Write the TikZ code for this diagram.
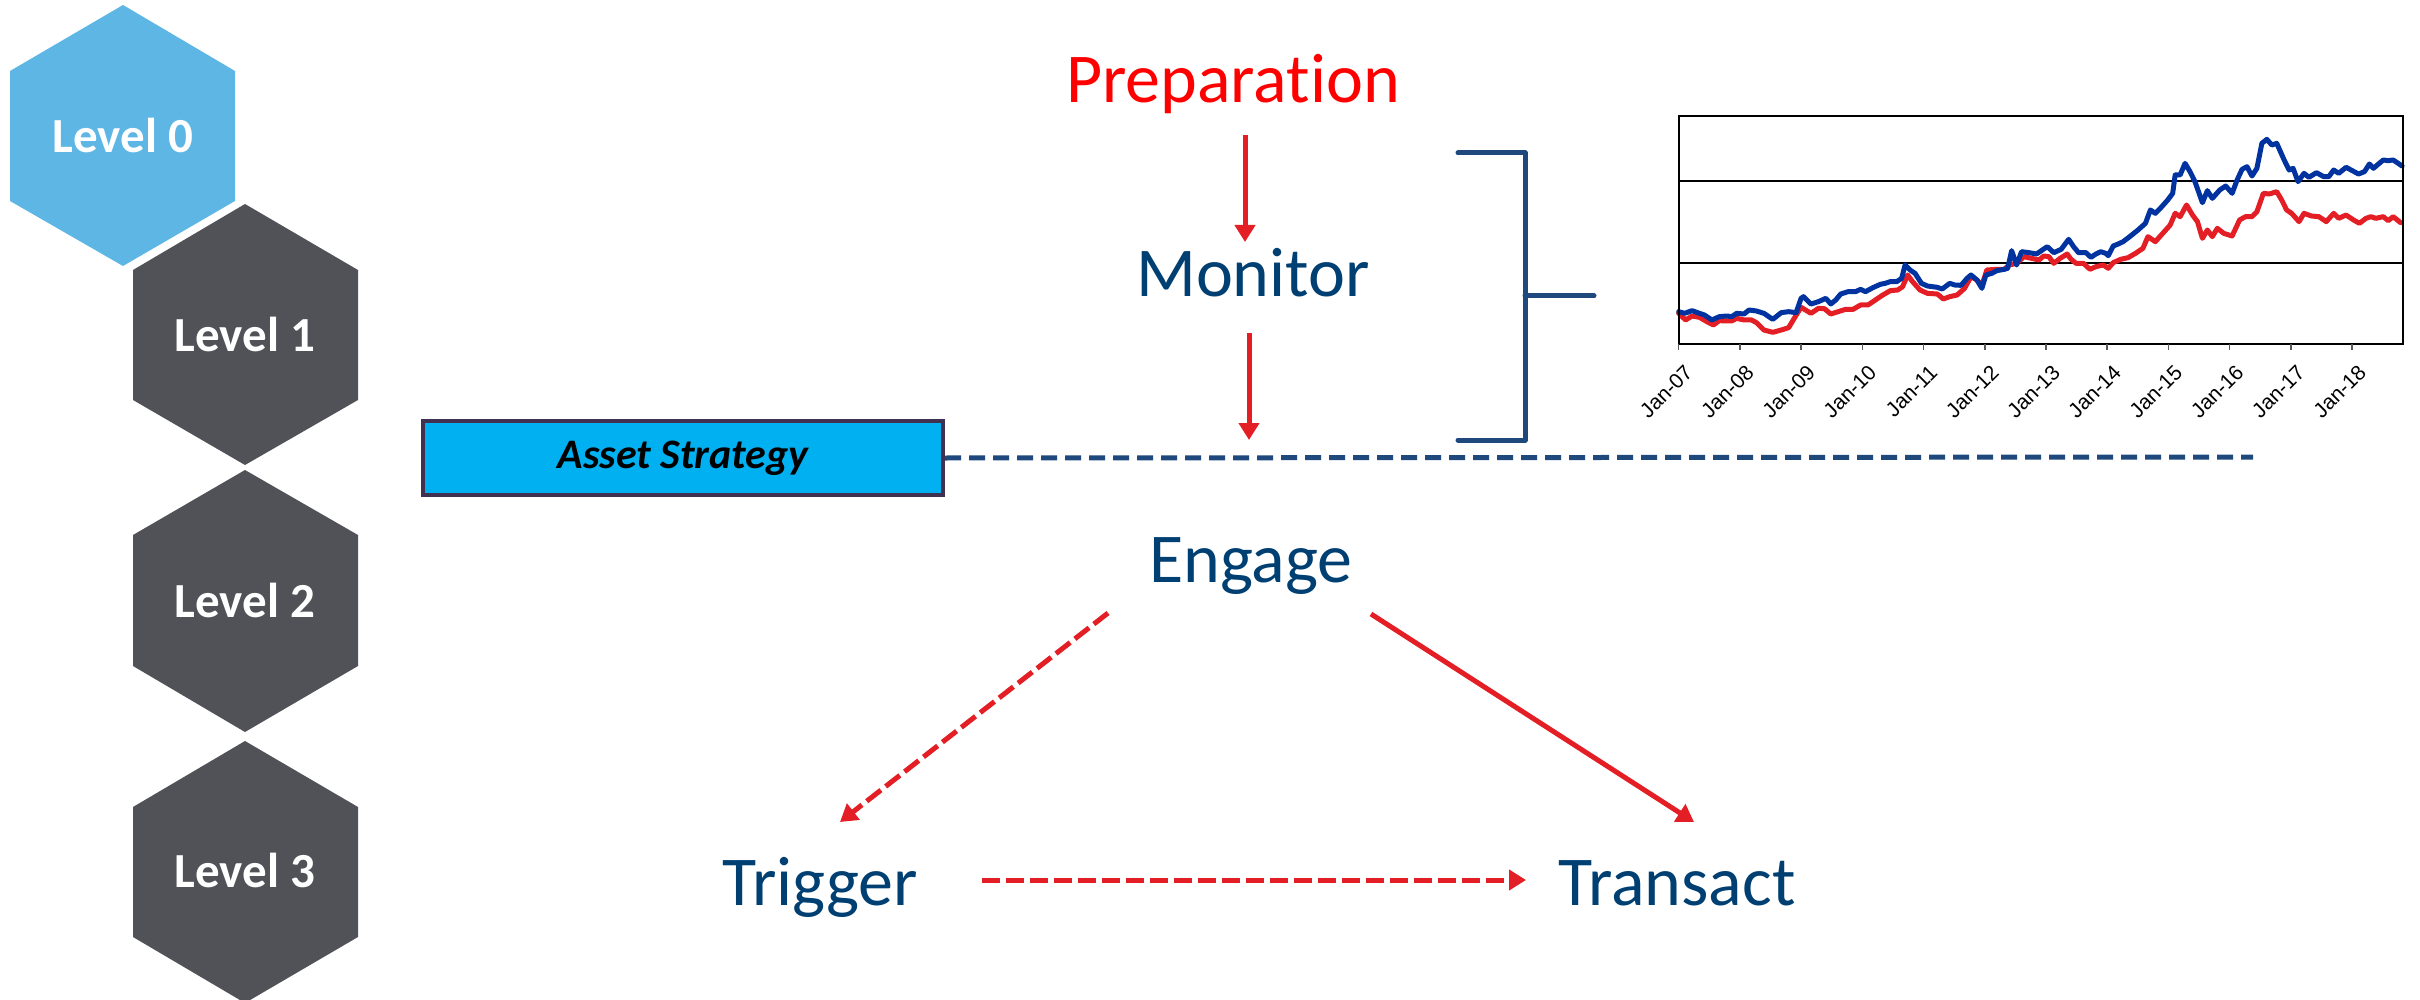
\documentclass[tikz,border=0pt]{standalone}
\usepackage{fontspec}
\setmainfont{Carlito}[Ligatures=NoCommon]
\newfontfamily\axisfont{Liberation Sans}
\usetikzlibrary{arrows.meta}

\definecolor{hexlight}{RGB}{94,182,228}
\definecolor{hexdark}{RGB}{80,82,87}
\definecolor{navytext}{RGB}{0,63,114}
\definecolor{preptext}{RGB}{255,0,0}
\definecolor{flowred}{RGB}{227,30,36}
\definecolor{rulenavy}{RGB}{31,73,125}
\definecolor{stratfill}{RGB}{0,176,240}
\definecolor{stratedge}{RGB}{64,49,81}
\definecolor{seriesblue}{RGB}{0,51,160}
\definecolor{seriesred}{RGB}{227,30,36}

\begin{document}
\begin{tikzpicture}[x=1pt,y=-1pt,
  lvltext/.style={anchor=base,text=white,inner sep=0pt,
    font=\fontsize{49}{58}\selectfont\bfseries},
  stage/.style={anchor=base,text=navytext,inner sep=0pt,
    font=\fontsize{70}{84}\selectfont},
  flow/.style={draw=flowred,line width=5pt,
    -{Triangle[width=20pt,length=17pt]}},
  flowdash/.style={flow,dash pattern=on 18pt off 6pt},
  brace/.style={draw=rulenavy,line width=5pt,line cap=round,line join=round},
  stratbox/.style={draw=stratedge,fill=stratfill,line width=4pt,
    minimum width=520pt,minimum height=74pt,inner sep=0pt,
    font=\fontsize{42}{50}\selectfont\bfseries\itshape},
  gridrule/.style={draw=black,line width=1.6pt},
  frame/.style={draw=black,line width=2pt},
  series/.style={line width=5pt,line join=round,line cap=round},
  yearlabel/.style={rotate=45,anchor=north east,inner sep=0pt,
    font=\axisfont\fontsize{21}{25}\selectfont}]

\useasboundingbox (0,0) rectangle (2420,1000);

% level hexagons
\fill[hexlight] (123,5) -- (235,71) -- (235,201) -- (123,266) -- (10,201) -- (10,71) -- cycle;
\fill[hexdark] (245,204) -- (358,270) -- (358,400) -- (245,465) -- (133,400) -- (133,270) -- cycle;
\fill[hexdark] (245,470) -- (358,535) -- (358,666) -- (245,732) -- (133,666) -- (133,535) -- cycle;
\fill[hexdark] (245,741) -- (358,807) -- (358,937) -- (245,1003) -- (133,937) -- (133,807) -- cycle;
\node[lvltext] (lv0) at (123,153) {Level 0};
\node[lvltext] (lv1) at (245,352) {Level 1};
\node[lvltext] (lv2) at (245,617) {Level 2};
\node[lvltext] (lv3) at (245,887) {Level 3};

% stages
\node[stage,text=preptext] (prep) at (1233,103) {Preparation};
\node[stage] (mon) at (1253,297) {Monitor};
\node[stage] (eng) at (1251,582) {Engage};
\node[stage] (trig) at (820,905) {Trigger};
\node[stage] (trans) at (1677,905) {Transact};

% asset strategy bar and its dashed line
\node[stratbox] (strat) at (683,458) {Asset Strategy};
\coordinate (stratend) at (2253,457);
\coordinate (stratmid) at (1249,457);
\draw[rulenavy,line width=5pt,dash pattern=on 16pt off 8pt] (strat.east) -- (stratend);

% stage arrows
\draw[flow] ([xshift=12pt,yshift=-32pt]prep.base) -- ([xshift=-8pt,yshift=55pt]mon.base);
\draw[flow] ([xshift=-4pt,yshift=-36pt]mon.base) -- ([yshift=17pt]stratmid);
\draw[flowdash] ([xshift=-143pt,yshift=-31pt]eng.base) -- ([xshift=20pt,yshift=83pt]trig.base);
\draw[flow] ([xshift=120pt,yshift=-32pt]eng.base) -- ([xshift=17pt,yshift=83pt]trans.base);
\draw[flowdash] ([xshift=162pt,yshift=25pt]trig.base) -- ([xshift=-151pt,yshift=25pt]trans.base);

% bracket tying the monitor phase to the chart
\coordinate (brtop) at (1458,153);
\coordinate (brbot) at (1458,440);
\coordinate (brtip) at (1594,296);
\draw[brace] (brtop) -- (1525,153) -- (1525,440) -- (brbot);
\draw[brace] (1525,296) -- (brtip);

% price chart
\begin{scope}[shift={(1640pt,-100pt)},x=0.4955pt,y=-0.33333pt]
  \draw[gridrule] (78,243) -- (1540,243);
  \draw[gridrule] (78,489) -- (1540,489);
  \draw[series,seriesred] (78,640) -- (92,660) -- (105,648) -- (120,652) -- (135,665) -- (148,675) -- (160,662) -- (175,663) -- (185,663) -- (195,655) -- (210,660) -- (225,660) -- (235,668) -- (250,690) -- (268,697) -- (285,690) -- (300,683) -- (310,658) -- (325,622) -- (345,640) -- (360,625) -- (372,626) -- (385,642) -- (400,635) -- (415,628) -- (430,628) -- (445,615) -- (460,615) -- (475,600) -- (490,585) -- (505,572) -- (520,570) -- (530,560) -- (540,525) -- (550,545) -- (565,570) -- (580,580) -- (600,582) -- (612,597) -- (625,590) -- (640,585) -- (655,565) -- (668,530) -- (680,540) -- (690,555) -- (700,510) -- (720,508) -- (735,508) -- (745,495) -- (760,490) -- (775,470) -- (790,475) -- (805,480) -- (815,468) -- (825,470) -- (835,490) -- (848,475) -- (862,462) -- (870,478) -- (880,490) -- (895,490) -- (908,508) -- (920,500) -- (935,495) -- (945,505) -- (955,488) -- (970,478) -- (985,473) -- (1000,460) -- (1015,445) -- (1025,410) -- (1040,425) -- (1055,400) -- (1070,375) -- (1080,340) -- (1090,350) -- (1103,315) -- (1115,345) -- (1125,365) -- (1135,415) -- (1145,390) -- (1155,410) -- (1165,385) -- (1178,400) -- (1195,408) -- (1210,360) -- (1222,350) -- (1235,350) -- (1245,335) -- (1258,280) -- (1270,282) -- (1285,275) -- (1295,300) -- (1305,330) -- (1315,340) -- (1330,365) -- (1340,340) -- (1355,348) -- (1370,350) -- (1385,365) -- (1400,340) -- (1410,355) -- (1425,345) -- (1440,360) -- (1452,370) -- (1465,355) -- (1475,350) -- (1485,355) -- (1500,350) -- (1510,362) -- (1520,350) -- (1535,368);
  \draw[series,seriesblue] (78,635) -- (90,640) -- (105,632) -- (120,640) -- (130,645) -- (145,660) -- (160,650) -- (175,648) -- (185,650) -- (195,640) -- (210,642) -- (220,630) -- (235,633) -- (250,640) -- (268,658) -- (285,638) -- (300,635) -- (315,638) -- (325,595) -- (330,590) -- (345,612) -- (360,605) -- (375,595) -- (385,612) -- (395,600) -- (405,582) -- (420,575) -- (435,575) -- (445,568) -- (455,575) -- (470,563) -- (485,553) -- (495,550) -- (505,545) -- (518,545) -- (528,535) -- (535,495) -- (545,510) -- (555,520) -- (568,550) -- (580,558) -- (600,562) -- (610,567) -- (625,550) -- (635,555) -- (648,556) -- (660,535) -- (668,525) -- (680,540) -- (690,565) -- (698,525) -- (710,520) -- (720,512) -- (735,508) -- (742,505) -- (750,452) -- (760,495) -- (770,455) -- (785,458) -- (800,462) -- (810,452) -- (822,440) -- (835,458) -- (850,448) -- (865,418) -- (875,440) -- (885,458) -- (900,458) -- (910,472) -- (920,462) -- (930,455) -- (940,460) -- (945,467) -- (955,438) -- (965,432) -- (975,425) -- (990,408) -- (1005,390) -- (1020,370) -- (1030,330) -- (1040,340) -- (1050,325) -- (1065,300) -- (1075,280) -- (1080,225) -- (1090,225) -- (1100,190) -- (1110,215) -- (1120,245) -- (1135,308) -- (1145,272) -- (1155,295) -- (1170,270) -- (1182,258) -- (1195,280) -- (1205,240) -- (1215,208) -- (1225,200) -- (1235,228) -- (1245,205) -- (1255,130) -- (1265,118) -- (1275,135) -- (1285,130) -- (1300,180) -- (1310,210) -- (1318,205) -- (1328,245) -- (1340,220) -- (1350,232) -- (1365,218) -- (1380,230) -- (1390,230) -- (1400,210) -- (1410,220) -- (1425,202) -- (1435,210) -- (1450,222) -- (1462,215) -- (1472,192) -- (1480,205) -- (1492,190) -- (1500,180) -- (1510,182) -- (1520,180) -- (1530,190) -- (1538,198);
  \draw[frame] (78,47) rectangle (1540,732);
  \foreach \yr [count=\i from 0] in {07,08,09,10,11,12,13,14,15,16,17,18} {
    \draw[line width=1.5pt,gray!70!black] ({78+\i*123.55},732) -- ++(0,18);
    \node[yearlabel] (yr\yr) at ({88+\i*123.55},790) {Jan-\yr};
  }
\end{scope}
\end{tikzpicture}
\end{document}
